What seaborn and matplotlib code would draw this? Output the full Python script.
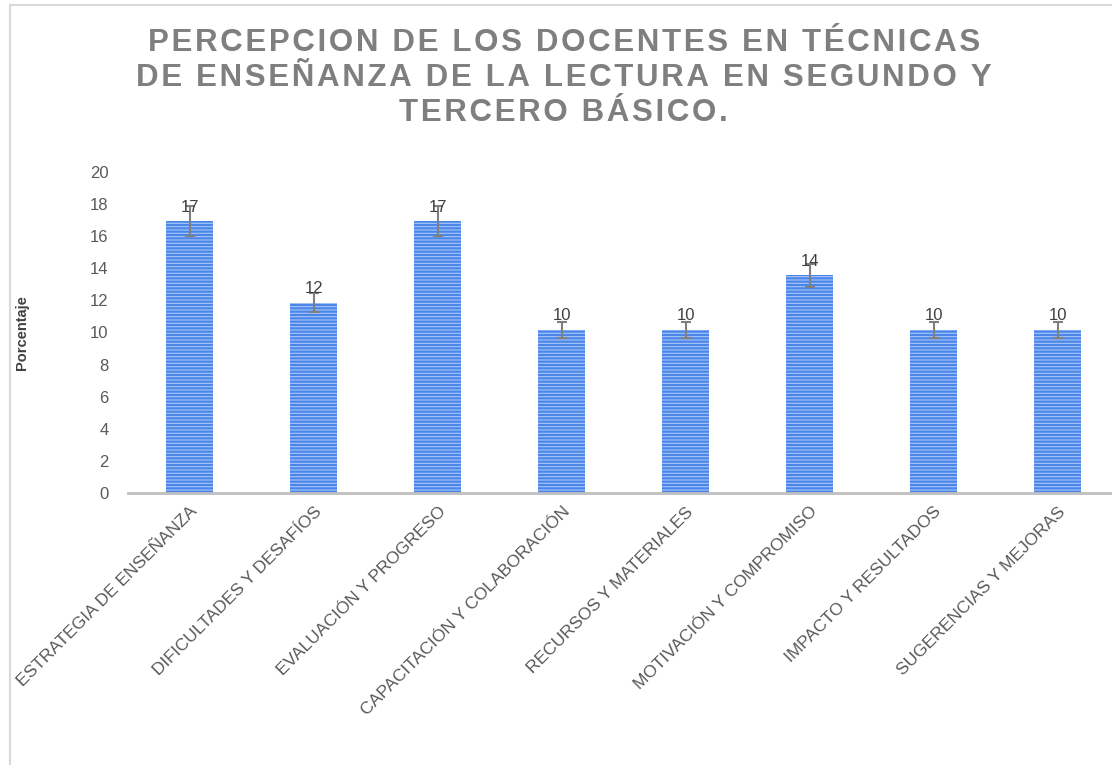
import matplotlib
matplotlib.use("Agg")
import matplotlib.pyplot as plt
import seaborn as sns
import pandas as pd
from matplotlib.patches import Rectangle

categories = ["ESTRATEGIA DE ENSEÑANZA", "DIFICULTADES Y DESAFÍOS", "EVALUACIÓN Y PROGRESO",
              "CAPACITACIÓN Y COLABORACIÓN", "RECURSOS Y MATERIALES", "MOTIVACIÓN Y COMPROMISO",
              "IMPACTO Y RESULTADOS", "SUGERENCIAS Y MEJORAS"]
values = [16.95, 11.86, 16.95, 10.17, 10.17, 13.56, 10.17, 10.17]
errors = [0.95, 0.6, 0.95, 0.5, 0.5, 0.7, 0.5, 0.5]
labels = ["17", "12", "17", "10", "10", "14", "10", "10"]
yticks = list(range(0, 21, 2))
title_lines = ["PERCEPCION DE LOS DOCENTES EN TÉCNICAS",
               "DE ENSEÑANZA DE LA LECTURA EN SEGUNDO Y",
               "TERCERO BÁSICO."]

sns.set_theme(style="white")
plt.rcParams['font.family'] = ['Liberation Sans', 'DejaVu Sans']
plt.rcParams['hatch.linewidth'] = 1.6

df = pd.DataFrame({"cat": categories, "val": values})

fig = plt.figure(figsize=(11.12, 7.65), dpi=100)
ax = fig.add_axes([0.115, 0.3556, 0.892, 0.4196])

sns.barplot(data=df, x="cat", y="val", ax=ax, color="#A9C6F7", width=0.38,
            errorbar=None, saturation=1)
for p in ax.patches:
    p.set_hatch("-----")
    p.set_edgecolor("#4A86EA")
    p.set_linewidth(0)

ax.errorbar(range(len(values)), values, yerr=errors, fmt="none", ecolor="#7F7F7F",
            elinewidth=1.5, capsize=3.5, capthick=1.5)

for i, (v, lab) in enumerate(zip(values, labels)):
    ax.text(i, v + 0.4, lab, ha="center", va="bottom", fontsize=12, color="#404040")

ax.set_xlim(-0.5, 7.5)
ax.set_ylim(0, 20)
ax.set_yticks(yticks)
ax.set_yticklabels([str(t) for t in yticks], fontsize=12, color="#595959")
ax.set_xticks(range(len(categories)))
ax.set_xticklabels(categories, rotation=45, ha="right", rotation_mode="anchor",
                   fontsize=12.5, color="#595959")
ax.tick_params(axis="x", pad=8, length=0)
ax.tick_params(axis="y", pad=14, length=0)
for s in ["top", "right", "left"]:
    ax.spines[s].set_visible(False)
ax.spines["bottom"].set_color("#BFBFBF")
ax.spines["bottom"].set_linewidth(2)
ax.set_xlabel("")
ax.set_ylabel("")

fig.text(0.02, 0.565, "Porcentaje", rotation=90, ha="center", va="center",
         fontsize=10.5, fontweight="bold", color="#404040")

hair = "\u200a"
spaced = "\n".join(hair.join(line) for line in title_lines)
fig.text(0.507, 0.898, spaced, ha="center", va="center", fontsize=22.5, fontweight="bold",
         color="#7F7F7F", linespacing=1.22,
         family=['Liberation Sans', 'DejaVu Sans'])

fig.add_artist(Rectangle((0.009, -0.1), 1.1, 1.093, transform=fig.transFigure,
                         fill=False, edgecolor="#D9D9D9", linewidth=1.5))

fig.savefig("out.png", dpi=100)
